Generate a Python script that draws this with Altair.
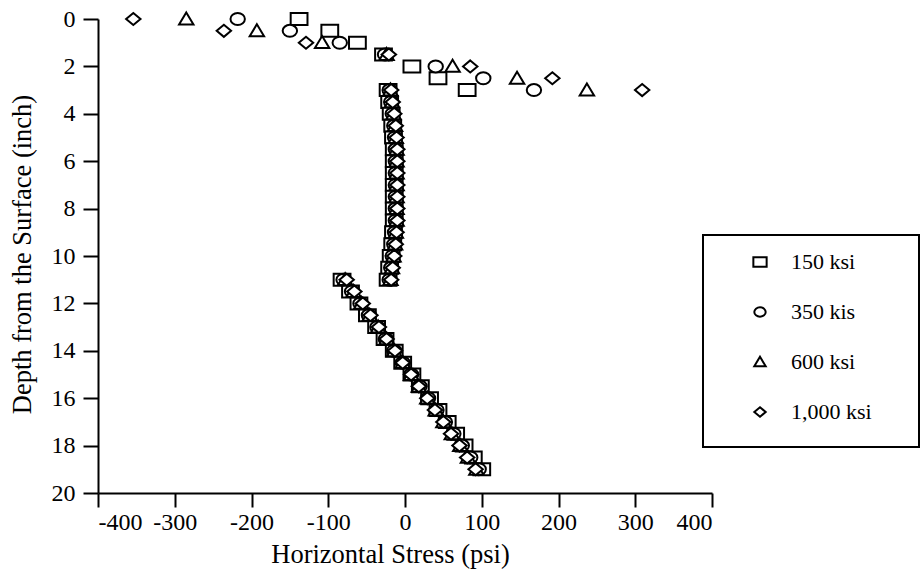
import altair as alt
import pandas as pd

series = ["150 ksi", "350 kis", "600 ksi", "1,000 ksi"]

depth_top = [0, 0.5, 1, 1.5, 2, 2.5, 3]
depth_mid = [3, 3.5, 4, 4.5, 5, 5.5, 6, 6.5, 7, 7.5, 8, 8.5, 9, 9.5, 10, 10.5, 11]
depth_bot = [11, 11.5, 12, 12.5, 13, 13.5, 14, 14.5, 15, 15.5, 16, 16.5, 17, 17.5, 18, 18.5, 19]

sq_top = [-138, -98, -62, -28, 9, 43, 81]
sq_mid = [-22, -20, -18, -16, -15, -14, -14, -14, -14, -14, -14, -14, -15, -16, -18, -20, -22]
sq_bot = [-82, -71, -60, -49, -37, -26, -14, -3, 9, 20, 32, 43, 55, 66, 77, 89, 100]

ci_top = [-218, -150, -85, -26, 40, 102, 168]
ci_mid = [-20, -18, -16, -14, -13, -12, -12, -12, -12, -12, -12, -12, -13, -14, -16, -18, -20]
ci_bot = [-80, -69, -58, -47, -36, -25, -14, -3, 8, 19, 30, 41, 52, 63, 74, 85, 96]

tr_top = [-285, -193, -108, -24, 62, 146, 237]
tr_mid = [-19, -17, -15, -13, -12, -11, -11, -11, -11, -11, -11, -11, -12, -13, -15, -17, -19]
tr_bot = [-78, -67, -57, -46, -35, -24, -14, -3, 8, 18, 29, 40, 50, 61, 72, 82, 93]

di_top = [-354, -236, -129, -21, 85, 192, 309]
di_mid = [-18, -16, -14, -12, -11, -10, -10, -10, -10, -10, -10, -10, -11, -12, -14, -16, -18]
di_bot = [-76, -66, -55, -45, -34, -24, -13, -3, 8, 18, 29, 39, 50, 60, 71, 81, 92]

x_ticks = [-400, -300, -200, -100, 0, 100, 200, 300, 400]
y_ticks = [0, 2, 4, 6, 8, 10, 12, 14, 16, 18, 20]

depths = depth_top + depth_mid + depth_bot
stress = {
    "150 ksi": sq_top + sq_mid + sq_bot,
    "350 kis": ci_top + ci_mid + ci_bot,
    "600 ksi": tr_top + tr_mid + tr_bot,
    "1,000 ksi": di_top + di_mid + di_bot,
}
rows = []
for i, s in enumerate(series):
    for x, y in zip(stress[s], depths):
        rows.append({"series": s, "stress": x, "depth": y, "ord": i})
df = pd.DataFrame(rows)

shapes = [
    "M-1.4,-1H1.4V1H-1.4Z",
    "M-1.2,0A1.2,1,0,1,1,1.2,0A1.2,1,0,1,1,-1.2,0Z",
    "M0,-1.1L1.2,0.9L-1.2,0.9Z",
    "M0,-1L1.2,0L0,1L-1.2,0Z",
]

FONT = "Liberation Serif"

points = alt.Chart(df).mark_point(
    filled=False, color="black", fill="white", fillOpacity=1, strokeWidth=2, size=144, opacity=1
).encode(
    x=alt.X("stress:Q", scale=alt.Scale(domain=[-400, 400], nice=False, zero=False),
            axis=alt.Axis(values=x_ticks, title="Horizontal Stress (psi)",
                          labelExpr="'' + datum.value", tickSize=14, labelPadding=3,
                          titleX=292, titleY=69, titleBaseline="alphabetic",
                          titleAnchor="middle", titleAlign="center")),
    y=alt.Y("depth:Q", scale=alt.Scale(domain=[0, 20], reverse=True, nice=False, zero=False),
            axis=alt.Axis(values=y_ticks, title="Depth from the Surface (inch)",
                          labelExpr="'' + datum.value", tickSize=15, labelPadding=8,
                          titleX=-68, titleY=235, titleBaseline="alphabetic",
                          titleAngle=270, titleAlign="center")),
    shape=alt.Shape("series:N", scale=alt.Scale(domain=series, range=shapes),
                    legend=alt.Legend(title=None, orient="none", legendX=651, legendY=232,
                                      padding=0, rowPadding=28, labelOffset=20,
                                      symbolSize=90, symbolStrokeWidth=2,
                                      labelFont=FONT, labelFontSize=22, labelColor="black")),
    order=alt.Order("ord:Q"),
)

frame_df = pd.DataFrame({"k": [0]})
frame = alt.Chart(frame_df).mark_rect(
    fillOpacity=0, stroke="black", strokeWidth=2, clip=False
).encode(
    x=alt.value(605), x2=alt.value(821), y=alt.value(216), y2=alt.value(428)
)

chart = alt.layer(frame, points).properties(
    width=614, height=474, background="white",
    autosize=alt.AutoSizeParams(type="none"),
    padding={"left": 98, "top": 19, "right": 209, "bottom": 78},
).configure_view(stroke=None).configure_axis(
    grid=False, domainColor="black", domainWidth=2, tickColor="black", tickWidth=2,
    labelFont=FONT, labelFontSize=24, labelColor="black",
    titleFont=FONT, titleFontSize=26.5, titleColor="black", titleFontWeight="normal",
)

chart.save("out.html", embed_options={"renderer": "svg", "actions": False})
